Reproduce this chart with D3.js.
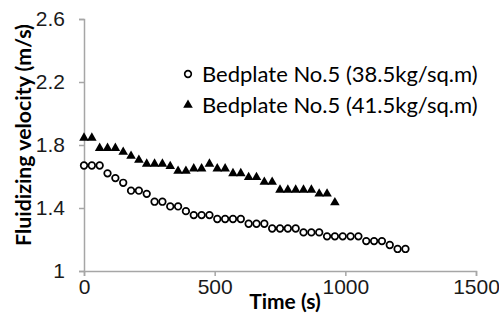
<!DOCTYPE html>
<html>
<head>
<meta charset="utf-8">
<script src="https://cdn.jsdelivr.net/npm/d3@7"></script>
<style>
	body { margin: 0; background: #fff; }
	svg { display: block; }
</style>
</head>
<body>
<svg width="499" height="329"></svg>
<script>
// Data
const timeA = [0, 30, 60, 90, 120, 150, 180, 210, 240, 270, 300, 330, 360, 390, 420, 450, 480, 510, 540, 570, 600,
	630, 660, 690, 720, 750, 780, 810, 840, 870, 900, 930, 960, 990, 1020, 1050, 1080, 1110, 1140, 1170, 1200, 1230];
const velocityA = [1.67, 1.67, 1.67, 1.62, 1.59, 1.56, 1.51, 1.51, 1.49, 1.44, 1.44, 1.41, 1.41, 1.38, 1.355, 1.355, 1.355,
	1.33, 1.33, 1.33, 1.33, 1.30, 1.30, 1.30, 1.27, 1.27, 1.27, 1.27, 1.245, 1.245, 1.245, 1.22, 1.22, 1.22, 1.22, 1.22,
	1.19, 1.19, 1.19, 1.165, 1.14, 1.14];

const timeB = [0, 30, 60, 90, 120, 150, 180, 210, 240, 270, 300, 330, 360, 390, 420, 450, 480, 510, 540, 570, 600,
	630, 660, 690, 720, 750, 780, 810, 840, 870, 900, 930, 960];
const velocityB = [1.845, 1.845, 1.78, 1.78, 1.78, 1.755, 1.73, 1.705, 1.68, 1.68, 1.68, 1.665, 1.635, 1.635, 1.65, 1.65,
	1.68, 1.65, 1.65, 1.62, 1.62, 1.595, 1.595, 1.565, 1.565, 1.515, 1.515, 1.515, 1.515, 1.515, 1.49, 1.49, 1.435];

const seriesNames = ["Bedplate No.5 (38.5kg/sq.m)", "Bedplate No.5 (41.5kg/sq.m)"];
const xTicks = [0, 500, 1000, 1500];
const yTicks = [1, 1.4, 1.8, 2.2, 2.6];

const margin = { top: 19, right: 23, bottom: 58, left: 84 },
	width = 499 - margin.left - margin.right,
	height = 329 - margin.top - margin.bottom;

const svg = d3.select("svg")
	.append("g")
	.attr("transform", `translate(${margin.left},${margin.top})`);

const x = d3.scaleLinear().domain([0, 1500]).range([0, width]);
const y = d3.scaleLinear().domain([1, 2.6]).range([height, 0]);

const axisColor = "#a6a6a6";
const tickFont = "'Liberation Sans', Arial, sans-serif";

// X axis
const xAxis = svg.append("g")
	.attr("transform", `translate(0,${height})`)
	.call(d3.axisBottom(x).tickValues(xTicks).tickSize(5).tickPadding(3).tickFormat(d3.format("d")));

// Y axis
const yAxis = svg.append("g")
	.call(d3.axisLeft(y).tickValues(yTicks).tickSize(5).tickPadding(14).tickFormat((d) => String(d)));

[xAxis, yAxis].forEach((a) => {
	a.select(".domain").attr("stroke", axisColor).attr("stroke-width", 1.5);
	a.selectAll(".tick line").attr("stroke", axisColor).attr("stroke-width", 1.5);
	a.selectAll(".tick text")
		.attr("fill", "#1a1a1a")
		.style("font-family", tickFont)
		.style("font-size", "21px");
});

// Axis titles
svg.append("text")
	.attr("x", width / 2 + 5)
	.attr("y", height + 38)
	.attr("text-anchor", "middle")
	.style("font-family", "Lato, sans-serif")
	.style("font-weight", "bold")
	.style("font-size", "21px")
	.text("Time (s)");

svg.append("text")
	.attr("transform", `translate(${-53},${height / 2 - 10}) rotate(-90)`)
	.attr("text-anchor", "middle")
	.style("font-family", "Lato, sans-serif")
	.style("font-weight", "bold")
	.style("font-size", "21.3px")
	.text("Fluidizing velocity (m/s)");

// Series A: open circles
const dataA = timeA.map((t, i) => ({ t: t, v: velocityA[i] }));
svg.selectAll(".ptA")
	.data(dataA)
	.join("circle")
	.attr("class", "ptA")
	.attr("cx", (d) => x(d.t))
	.attr("cy", (d) => y(d.v))
	.attr("r", 3.3)
	.attr("fill", "#fff")
	.attr("stroke", "#000")
	.attr("stroke-width", 1.7);

// Series B: filled triangles
const tri = d3.symbol().type(d3.symbolTriangle).size(40);
const dataB = timeB.map((t, i) => ({ t: t, v: velocityB[i] }));
svg.selectAll(".ptB")
	.data(dataB)
	.join("path")
	.attr("class", "ptB")
	.attr("transform", (d) => `translate(${x(d.t)},${y(d.v)})`)
	.attr("d", tri)
	.attr("fill", "#000");

// Legend
const legend = svg.append("g").attr("transform", "translate(104,55)");
legend.append("circle")
	.attr("cx", 0).attr("cy", 0).attr("r", 3.3)
	.attr("fill", "#fff").attr("stroke", "#000").attr("stroke-width", 1.7);
legend.append("path")
	.attr("transform", "translate(0,31)")
	.attr("d", tri)
	.attr("fill", "#000");
legend.selectAll(".lg")
	.data(seriesNames)
	.join("text")
	.attr("class", "lg")
	.attr("x", 14)
	.attr("y", (d, i) => i * 31)
	.attr("dy", "0.35em")
	.style("font-family", "Lato, sans-serif")
	.style("font-size", "22px")
	.attr("fill", "#000")
	.text((d) => d);
</script>
</body>
</html>
